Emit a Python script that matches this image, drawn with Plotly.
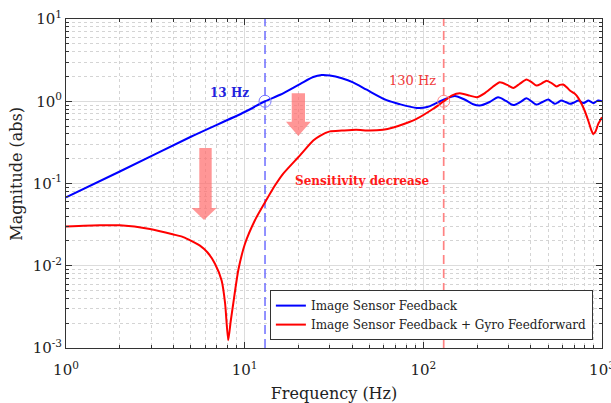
import plotly.graph_objects as go

# ---------------- data ----------------
blue_freq = [1, 2, 5, 10, 13, 15.8, 20.4, 24.2, 27, 30, 35, 40.4, 48.2, 62.3, 73.9, 92, 105, 124,
             135, 150, 170, 190, 207, 235, 262, 290, 319, 350, 378, 405, 430, 465, 500, 525, 545,
             568, 590, 625, 661, 700, 736, 760, 785, 812, 838, 865, 893, 920, 953, 1000]
blue_mag = [0.068, 0.14, 0.37, 0.74, 1.0, 1.2, 1.62, 1.97, 2.08, 2.05, 1.9, 1.7, 1.38, 1.03, 0.92, 0.83, 0.85, 1.0,
            1.08, 1.16, 1.05, 0.92, 0.887, 0.98, 1.12, 1.01, 0.90, 0.98, 1.09, 0.99, 0.91, 0.98, 1.05, 0.98, 0.93,
            0.97, 1.02, 0.98, 0.93, 0.97, 1.02, 0.99, 0.95, 0.98, 1.02, 0.99, 0.95, 0.98, 1.02, 1.0]

red_freq = [1, 1.55, 2, 2.95, 4, 4.53, 5.62, 6.2, 6.82, 7.43, 7.77, 8.09, 8.35, 8.63, 9.21, 10.04, 11.4, 13,
            14.8, 16.4, 20.4, 24.2, 26.4, 30, 35, 42, 50, 59.5, 67.9, 80, 91.6, 113.6, 130, 145, 160,
            182, 199, 220, 245, 268, 295, 319, 345, 378, 405, 430, 460, 490, 525, 557, 580, 606, 635,
            661, 700, 736, 785, 838, 870, 893, 920, 953, 1000]
red_mag = [0.030, 0.031, 0.031, 0.028, 0.024, 0.0223, 0.0176, 0.0145, 0.0106, 0.0066, 0.0035, 0.00124, 0.0021,
           0.00345, 0.0088, 0.0185, 0.0355, 0.059, 0.095, 0.131, 0.22, 0.333, 0.38, 0.43, 0.44, 0.45, 0.44,
           0.45, 0.48, 0.54, 0.61, 0.81, 1.0, 1.18, 1.25, 1.17, 1.12, 1.25, 1.5, 1.70, 1.58, 1.45, 1.62,
           1.84, 1.7, 1.55, 1.65, 1.78, 1.65, 1.51, 1.58, 1.60, 1.48, 1.35, 1.25, 1.10, 0.845, 0.58, 0.45,
           0.40, 0.43, 0.53, 0.64]

marker_freq = [13, 130]
marker_mag = [1.0, 1.0]
y_span = [1e-3, 10]

x_tickvals = [1, 10, 100, 1000]
x_ticktext = ["10<sup>0</sup>", "10<sup>1</sup>", "10<sup>2</sup>", "10<sup>3</sup>"]
y_tickvals = [1e-3, 1e-2, 1e-1, 1, 10]
y_ticktext = ["10<sup>-3</sup>", "10<sup>-2</sup>", "10<sup>-1</sup>", "10<sup>0</sup>", "10<sup>1</sup>"]
x_minor = [m * d for d in (1, 10, 100) for m in range(2, 10)]
y_minor = [m * d for d in (1e-3, 1e-2, 1e-1, 1) for m in range(2, 10)]

FONT = "DejaVu Serif"

fig = go.Figure()

# vertical dashed markers
fig.add_trace(go.Scatter(x=[marker_freq[0]] * 2, y=y_span, mode="lines",
                         line=dict(color="rgb(110,110,255)", width=1.5, dash="9px,5px"),
                         showlegend=False, hoverinfo="skip"))
fig.add_trace(go.Scatter(x=[marker_freq[1]] * 2, y=y_span, mode="lines",
                         line=dict(color="rgb(255,130,130)", width=1.7, dash="9px,5px"),
                         showlegend=False, hoverinfo="skip"))

fig.add_trace(go.Scatter(x=blue_freq, y=blue_mag, mode="lines", name="Image Sensor Feedback",
                         line=dict(color="#0000ff", width=2, shape="spline", smoothing=0.8)))
fig.add_trace(go.Scatter(x=red_freq, y=red_mag, mode="lines",
                         name="Image Sensor Feedback + Gyro Feedforward",
                         line=dict(color="#ff0000", width=2, shape="spline", smoothing=0.6)))

fig.add_trace(go.Scatter(x=[marker_freq[0]], y=[marker_mag[0]], mode="markers", showlegend=False,
                         marker=dict(symbol="circle-open", size=12, color="rgb(120,120,255)",
                                     line=dict(width=1))))
fig.add_trace(go.Scatter(x=[marker_freq[1]], y=[marker_mag[1]], mode="markers", showlegend=False,
                         marker=dict(symbol="circle-open", size=12, color="rgb(255,140,140)",
                                     line=dict(width=1))))

# block arrows (paper coordinates)
def block_arrow(xl, xr, hl, hr, xt, ytop, ybase, ytip):
    return (f"M {xl} {ytop} L {xr} {ytop} L {xr} {ybase} L {hr} {ybase} L {xt} {ytip} "
            f"L {hl} {ybase} L {xl} {ybase} Z")

arrow_color = "rgba(255,110,110,0.72)"
shapes = [
    dict(type="path", xref="paper", yref="paper", layer="above",
         path=block_arrow(0.2487, 0.2718, 0.2345, 0.2811, 0.2575, 0.608, 0.4255, 0.389),
         fillcolor=arrow_color, line=dict(width=0)),
    dict(type="path", xref="paper", yref="paper", layer="above",
         path=block_arrow(0.4211, 0.4459, 0.4104, 0.4565, 0.4334, 0.774, 0.688, 0.644),
         fillcolor=arrow_color, line=dict(width=0)),
]

annotations = [
    dict(x=0.915, y=0.106, xref="x", yref="y", text="<b>13 Hz</b>", showarrow=False,
         font=dict(family=FONT, size=12, color="#2222dd")),
    dict(x=1.942, y=0.251, xref="x", yref="y", text="130 Hz", showarrow=False,
         font=dict(family=FONT, size=13, color="#f03a3a")),
    dict(x=1.27, y=-0.964, xref="x", yref="y", text="<b>Sensitivity decrease</b>", showarrow=False,
         xanchor="left", font=dict(family=FONT, size=12, color="#ff1a1a")),
    dict(x=-0.0914, y=0.53, xref="paper", yref="paper", text="Magnitude (abs)", showarrow=False,
         textangle=-90, xanchor="center", yanchor="middle",
         font=dict(family=FONT, size=16, color="#222222")),
]

axis_common = dict(
    type="log", showline=True, linecolor="#333333", linewidth=1, mirror="allticks",
    ticks="inside", ticklen=6, tickcolor="#333333", showgrid=True, gridcolor="#dcdcdc",
    gridwidth=1, zeroline=False, tickfont=dict(family=FONT, size=15, color="#222222"),
    ticklabeloverflow="allow", automargin=False,
)

fig.update_layout(
    width=611, height=403,
    margin=dict(l=66, r=9, t=19, b=55),
    paper_bgcolor="white", plot_bgcolor="white",
    xaxis=dict(axis_common, range=[0, 3], tickvals=x_tickvals, ticktext=x_ticktext,
               ticklabelstandoff=8,
               title=dict(text="Frequency (Hz)", font=dict(family=FONT, size=16, color="#222222")),
               minor=dict(tickvals=x_minor, ticks="inside", ticklen=3, tickcolor="#333333",
                          showgrid=True, gridcolor="#d4d4d4", griddash="dot")),
    yaxis=dict(axis_common, range=[-3, 1], tickvals=y_tickvals, ticktext=y_ticktext,
               minor=dict(tickvals=y_minor, ticks="inside", ticklen=3, tickcolor="#333333",
                          showgrid=True, gridcolor="#d4d4d4", griddash="dot")),
    legend=dict(x=0.983, y=0.024, xanchor="right", yanchor="bottom", bgcolor="white",
                bordercolor="#333333", borderwidth=1, font=dict(family=FONT, size=12, color="#222222"),
                tracegroupgap=0, itemwidth=30),
    shapes=shapes, annotations=annotations,
    showlegend=True,
)

fig.write_html("out.html")
